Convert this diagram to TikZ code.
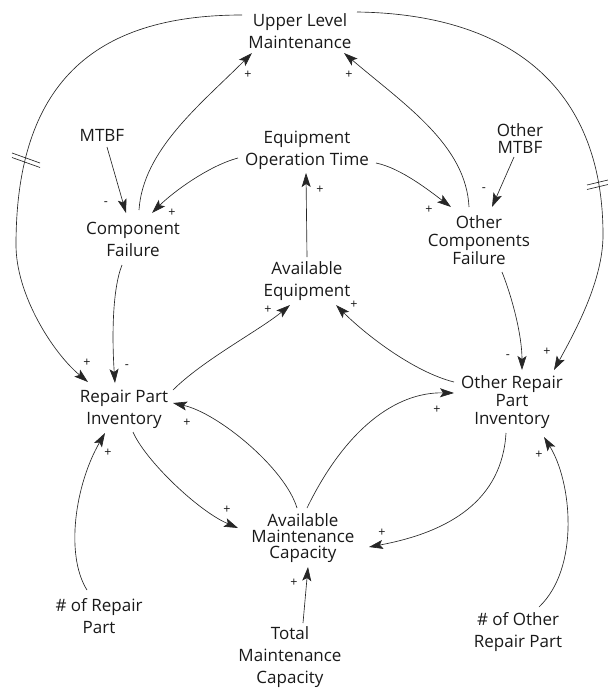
\documentclass[tikz,border=0pt]{standalone}
\usepackage{fontspec}
\setmainfont{Open Sans}
\usetikzlibrary{arrows.meta}
\begin{document}
\begin{tikzpicture}[x=1pt,y=-1pt,
  var/.style={align=center, inner sep=0pt, text=black!90, font=\fontsize{17}{22}\selectfont},
  tight/.style={font=\fontsize{17}{18}\selectfont},
  link/.style={draw=black!85, line width=0.65pt, -{Stealth[length=14pt,width=9pt,inset=3pt]}},
  pol/.style={inner sep=0pt, text=black!90, font=\fontsize{12.5}{12.5}\selectfont},
  delaymark/.style={draw=black!85, line width=0.65pt}
]
\useasboundingbox (0,0) rectangle (608,689);

% variables
\node[var] (ulm) at (300,31) {Upper Level\\Maintenance};
\node[var] (mtbf) at (102,135) {MTBF};
\node[var] (eot) at (307,150) {Equipment\\Operation Time};
\node[var, font=\fontsize{17}{17}\selectfont] (omtbf) at (520,138.5) {Other\\MTBF};
\node[var] (cf) at (133,239) {Component\\Failure};
\node[var, tight] (ocf) at (479,240) {Other\\Components\\Failure};
\node[var] (ae) at (307,281) {Available\\Equipment};
\node[var] (rpi) at (124,409.5) {Repair Part\\Inventory};
\node[var, tight] (orpi) at (512,402) {Other Repair\\Part\\Inventory};
\node[var, font=\fontsize{17}{16}\selectfont] (amc) at (303,538) {Available\\Maintenance\\Capacity};
\node[var] (nrp) at (99,616) {\# of Repair\\Part};
\node[var] (tmc) at (290,657) {Total\\Maintenance\\Capacity};
\node[var] (norp) at (518,632) {\# of Other\\Repair Part};

% delayed links from upper level maintenance
\draw[link] ([shift={(-58,-16)}]ulm.center) .. controls +(-150,0) and +(0,-160) .. (16,245)
  .. controls +(0,50) and +(-35,-29) .. ([shift={(-36,-27.5)}]rpi.center);
\draw[link] ([shift={(57,-19)}]ulm.center) .. controls +(150,2) and +(0,-150) .. (603,235)
  .. controls +(0,45) and +(22,-40) .. ([shift={(42,-32)}]orpi.center);
\draw[delaymark] (12,153) -- (40,163) (12,157.5) -- (40,167.5);
\draw[delaymark] (587,185) -- (608,180) (587,189.5) -- (608,184.5);

% failures
\draw[link] ([shift={(6,-29)}]cf.center) .. controls +(4,-60) and +(-52,52) .. ([shift={(-48,22)}]ulm.center);
\draw[link] ([shift={(-10,-33)}]ocf.center) .. controls +(-3,-62) and +(61,52) .. ([shift={(44,22)}]ulm.center);
\draw[link] ([shift={(5,12)}]mtbf.center) -- ([shift={(-7,-26)}]cf.center);
\draw[link] ([shift={(-69,8)}]eot.center) .. controls +(-30,8) and +(20,-20) .. ([shift={(19,-26)}]cf.center);
\draw[link] ([shift={(69,13)}]eot.center) .. controls +(25,5) and +(-20,-15) .. ([shift={(-28,-33)}]ocf.center);
\draw[link] ([shift={(-6,18.5)}]omtbf.center) -- ([shift={(13,-33)}]ocf.center);
\draw[link] ([shift={(0,-24)}]ae.center) -- ([shift={(-1,23)}]eot.center);

% inventories
\draw[link] ([shift={(-11,26)}]cf.center) .. controls +(-10,25) and +(-3,-43) .. ([shift={(-9,-26.5)}]rpi.center);
\draw[link] ([shift={(23,32)}]ocf.center) .. controls +(10,25) and +(0,-35) .. ([shift={(10,-32)}]orpi.center);
\draw[link] ([shift={(49,-19.5)}]rpi.center) .. controls +(30,-30) and +(-30,25) .. ([shift={(-17,24)}]ae.center);
\draw[link] ([shift={(-58,-20)}]orpi.center) .. controls +(-40,-10) and +(30,30) .. ([shift={(29,24)}]ae.center);

% maintenance capacity
\draw[link] ([shift={(-6,-30)}]amc.center) .. controls +(-12,-40) and +(45,10) .. ([shift={(49,-6.5)}]rpi.center);
\draw[link] ([shift={(4,-30)}]amc.center) .. controls +(38,-78) and +(-59,-1) .. ([shift={(-58,-9)}]orpi.center);
\draw[link] ([shift={(9,22.5)}]rpi.center) .. controls +(12,28) and +(-40,-17) .. ([shift={(-65,-10)}]amc.center);
\draw[link] ([shift={(-6,31)}]orpi.center) .. controls +(-4,67) and +(81,-15) .. ([shift={(66,9)}]amc.center);
\draw[link] ([shift={(-12,-26)}]nrp.center) .. controls +(-22,-35) and +(-30,52) .. ([shift={(-19,23.5)}]rpi.center);
\draw[link] ([shift={(21,-25)}]norp.center) .. controls +(41,-39) and +(28,45) .. ([shift={(32,35)}]orpi.center);
\draw[link] ([shift={(13,-34)}]tmc.center) -- ([shift={(5,29)}]amc.center);

% polarities
\node[pol] (p1) at (248,75) {+};
\node[pol] (p2) at (349,75) {+};
\node[pol] (p3) at (106,204) {-};
\node[pol] (p4) at (172,213) {+};
\node[pol] (p5) at (484,190) {-};
\node[pol] (p6) at (429,210) {+};
\node[pol] (p7) at (320,190) {+};
\node[pol] (p8) at (87,363) {+};
\node[pol] (p9) at (127,367) {-};
\node[pol] (p10) at (268,310) {+};
\node[pol] (p11) at (354,305) {+};
\node[pol] (p12) at (508,357) {-};
\node[pol] (p13) at (547,352) {+};
\node[pol] (p14) at (187,423) {+};
\node[pol] (p15) at (437,410) {+};
\node[pol] (p16) at (108,453) {+};
\node[pol] (p17) at (539,455) {+};
\node[pol] (p18) at (227,510) {+};
\node[pol] (p19) at (382,533) {+};
\node[pol] (p20) at (294,583) {+};
\end{tikzpicture}
\end{document}
